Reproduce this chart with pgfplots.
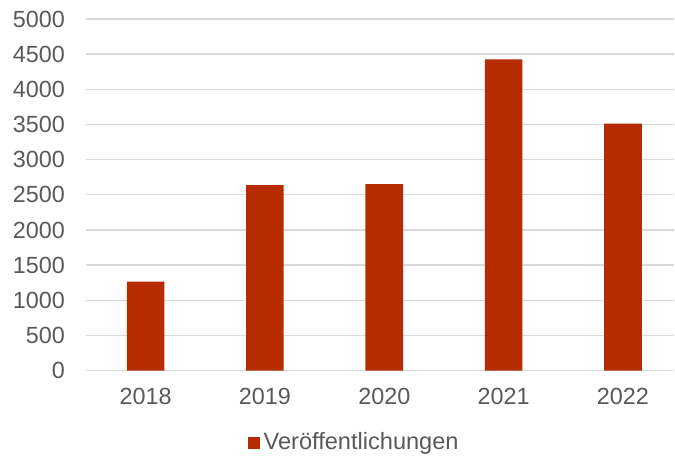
\documentclass[border=0pt]{standalone}
\usepackage{fontspec}
\setmainfont{Liberation Sans}
\usepackage{pgfplots}
\pgfplotsset{compat=1.18}
\definecolor{barred}{RGB}{183,43,0}
\definecolor{gridgray}{RGB}{217,217,217}
\definecolor{txtgray}{RGB}{89,89,89}
\begin{document}
\begin{tikzpicture}
\begin{axis}[
  scale only axis,
  width=294.5pt, height=176pt,
  xmin=-0.5, xmax=4.43,
  ymin=0, ymax=5000,
  ytick={0,500,...,5000},
  xtick={0,1,2,3,4},
  xticklabels={2018,2019,2020,2021,2022},
  axis line style={draw=none},
  major tick length=0pt,
  ymajorgrids, grid style={gridgray, line width=0.7pt},
  ybar, bar width=0.315, bar shift=0pt,
  /pgf/number format/assume math mode=true,
  /pgf/number format/1000 sep={},
  tick label style={font=\fontsize{11.7}{13}\selectfont, text=txtgray},
  yticklabel style={xshift=-7pt},
  xticklabel style={yshift=-5.5pt},
  legend style={at={(0.4576,-0.2045)}, anchor=center, draw=none, fill=none,
    font=\fontsize{11.8}{13}\selectfont, text=txtgray, inner sep=0pt},
  legend image code/.code={\fill[barred] (0pt,-3pt) rectangle (6pt,3pt);},
  legend cell align=left,
]
\addplot[fill=barred, draw=none] coordinates {(0,1265) (1,2636) (2,2650) (3,4427) (4,3512)};
\addlegendentry{Veröffentlichungen}
\end{axis}
\path ([shift={(-43pt,9.5pt)}]current axis.north west) rectangle ([shift={(0pt,-43pt)}]current axis.south east);
\end{tikzpicture}
\end{document}
